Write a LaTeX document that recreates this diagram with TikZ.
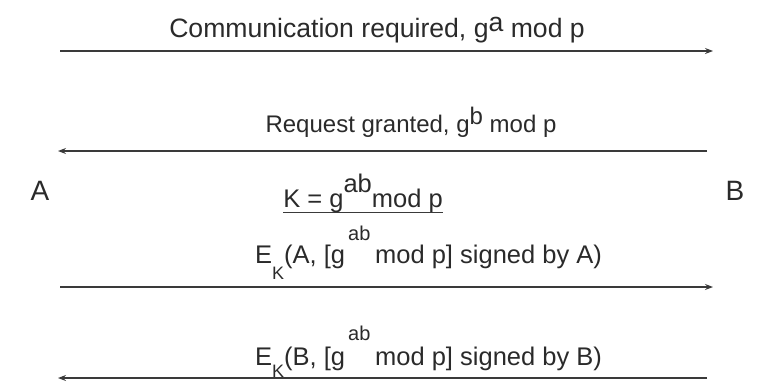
\documentclass[tikz,border=0pt]{standalone}
\usepackage{fontspec}
\setmainfont{Liberation Sans}
\usetikzlibrary{arrows.meta}
\definecolor{ink}{HTML}{2A2A2A}
\definecolor{wire}{HTML}{3A3A3A}
\newcommand{\supsz}{\fontsize{20}{22}\selectfont}
\newcommand{\subsz}{\fontsize{18}{20}\selectfont}
\begin{document}
\begin{tikzpicture}[x=1pt,y=-1pt,
  big/.style={font=\fontsize{26.6}{28}\selectfont, inner sep=0pt, text=ink, anchor=base},
  lbl/.style={font=\fontsize{24}{26}\selectfont, inner sep=0pt, text=ink, anchor=base},
  sml/.style={font=\fontsize{25.5}{27}\selectfont, inner sep=0pt, text=ink, anchor=base west},
  party/.style={font=\fontsize{28}{30}\selectfont, inner sep=0pt, text=ink, anchor=base},
  msg/.style={line width=1.1pt, draw=wire, -{Stealth[length=8pt,width=6pt]}}]
\useasboundingbox (0,0) rectangle (759,381);
\node[party] (A) at (40,200) {A};
\node[party] (B) at (735,200) {B};
% messages
\node[big] (m1) at (377,37) {Communication required, g\raisebox{6pt}{a} mod p};
\coordinate (a1s) at (60,51);
\coordinate (a1e) at (713,51);
\draw[msg] (a1s) -- (a1e);
\node[lbl] (m2) at (411,132) {Request granted, g\raisebox{8pt}{b} mod p};
\coordinate (a2s) at (707,151);
\coordinate (a2e) at (58,151);
\draw[msg] (a2s) -- (a2e);
\node[lbl, font=\fontsize{25.5}{27}\selectfont] (k) at (363,207) {K = g\raisebox{15pt}{ab}mod p};
\draw[line width=1pt, draw=wire] ([yshift=-5pt]k.base west) -- ([yshift=-5pt]k.base east);
\node[sml] (m3) at (255,263) {E\raisebox{-16pt}{\subsz K}(A, [g\hspace{3pt}\rlap{\raisebox{23pt}{\supsz ab}}\hspace{27pt}mod p] signed by A)};
\coordinate (a3s) at (60,287);
\coordinate (a3e) at (713,287);
\draw[msg] (a3s) -- (a3e);
\node[sml] (m4) at (255,365) {E\raisebox{-12pt}{\subsz K}(B, [g\hspace{3pt}\rlap{\raisebox{25pt}{\supsz ab}}\hspace{27pt}mod p] signed by B)};
\coordinate (a4s) at (707,378);
\coordinate (a4e) at (58,378);
\draw[msg] (a4s) -- (a4e);
\end{tikzpicture}
\end{document}
